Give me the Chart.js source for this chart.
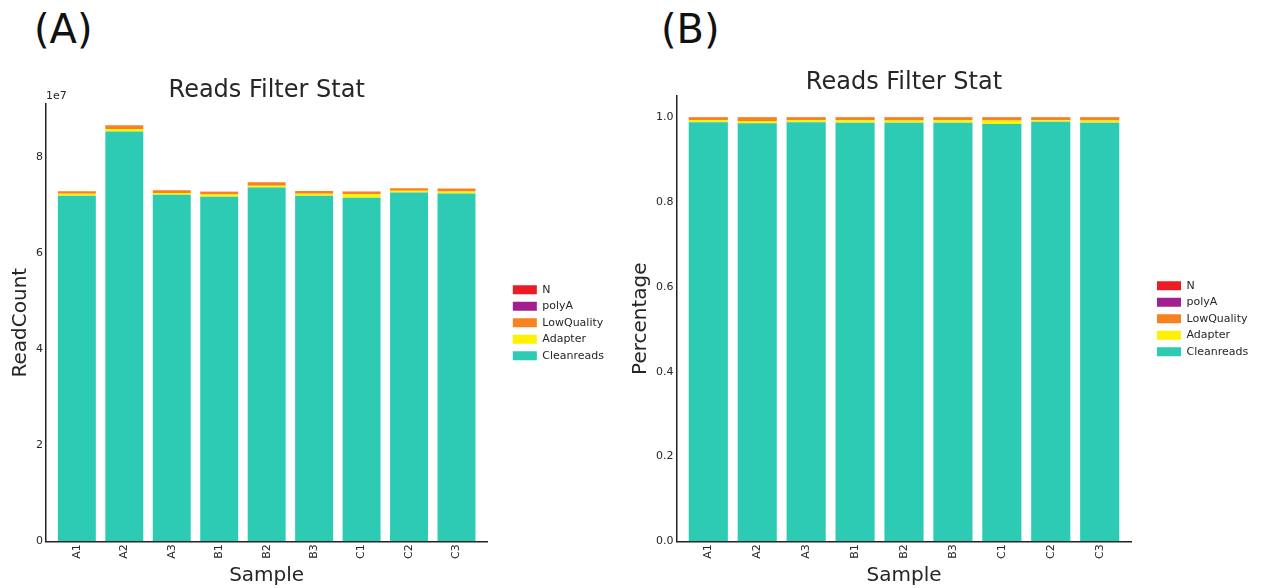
<!DOCTYPE html>
<html>
<head>
<meta charset="utf-8">
<script src="https://cdn.jsdelivr.net/npm/chart.js@4.4.1/dist/chart.umd.min.js"></script>
<style>
  body { margin: 0; background: #fff; width: 1263px; height: 588px; position: relative; overflow: hidden; font-family: 'DejaVu Sans', sans-serif; }
  canvas { position: absolute; top: 0; }
  .tag { position: absolute; top: 6px; font-size: 40px; color: #111; }
</style>
</head>
<body>
<div class="tag" style="left:34px">(A)</div>
<div class="tag" style="left:661px">(B)</div>
<canvas id="chart-count" width="615" height="588" style="left:0"></canvas>
<canvas id="chart-percent" width="639" height="588" style="left:620px"></canvas>
<script>
// samples and series
const samples = ['A1', 'A2', 'A3', 'B1', 'B2', 'B3', 'C1', 'C2', 'C3'];

// (A) read counts
const cleanCount   = [71900000, 85300000, 72100000, 71700000, 73600000, 71900000, 71500000, 72600000, 72400000];
const adapterCount = [400000, 500000, 400000, 450000, 400000, 450000, 700000, 350000, 400000];
const lowQualCount = [550000, 750000, 550000, 550000, 700000, 550000, 550000, 500000, 600000];
const polyACount   = [0, 0, 0, 0, 0, 0, 0, 0, 0];
const nCount       = [20000, 25000, 20000, 20000, 20000, 20000, 25000, 20000, 20000];
const countTicks   = [0, 20000000, 40000000, 60000000, 80000000];

// (B) fractions
const cleanPct   = [0.988, 0.986, 0.988, 0.987, 0.987, 0.987, 0.984, 0.989, 0.987];
const adapterPct = [0.005, 0.005, 0.005, 0.006, 0.005, 0.006, 0.008, 0.004, 0.005];
const lowQualPct = [0.007, 0.009, 0.007, 0.007, 0.008, 0.007, 0.008, 0.007, 0.008];
const polyAPct   = [0, 0, 0, 0, 0, 0, 0, 0, 0];
const nPct       = [0.0003, 0.0003, 0.0003, 0.0003, 0.0003, 0.0003, 0.0003, 0.0003, 0.0003];
const pctTicks   = [0, 0.2, 0.4, 0.6, 0.8, 1.0];

const colors = {
    Cleanreads: '#2ecbb4',
    Adapter: '#fff200',
    LowQuality: '#f7821f',
    polyA: '#a21f8e',
    N: '#ec1c24'
};

const font = "'DejaVu Sans', sans-serif";
const ink = '#262626';

// title over the plot area and the offset text (1e7)
const plotTitle = {
    id: 'plotTitle',
    afterDraw(chart, args, opts) {
        const ctx = chart.ctx;
        const area = chart.chartArea;
        ctx.save();
        ctx.fillStyle = ink;
        ctx.textAlign = 'center';
        ctx.textBaseline = 'middle';
        ctx.font = '24px ' + font;
        ctx.fillText(opts.text, (area.left + area.right) / 2, area.top - opts.gap);
        if (opts.exp) {
            ctx.font = '11px ' + font;
            ctx.textAlign = 'left';
            ctx.textBaseline = 'bottom';
            ctx.fillText(opts.exp, area.left, area.top - 2);
        }
        ctx.restore();
    }
};

function makeDatasets(clean, adapter, lowq, polya, n) {
    return [
        { label: 'Cleanreads', data: clean, backgroundColor: colors.Cleanreads },
        { label: 'Adapter', data: adapter, backgroundColor: colors.Adapter },
        { label: 'LowQuality', data: lowq, backgroundColor: colors.LowQuality },
        { label: 'polyA', data: polya, backgroundColor: colors.polyA },
        { label: 'N', data: n, backgroundColor: colors.N }
    ];
}

function makeOptions(cfg) {
    return {
        responsive: false,
        animation: false,
        devicePixelRatio: 1,
        layout: { padding: { top: cfg.top, right: cfg.right, left: 9, bottom: 0 } },
        datasets: { bar: { barPercentage: 0.8, categoryPercentage: 1.0, borderWidth: 0 } },
        plugins: {
            title: { display: false },
            tooltip: { enabled: false },
            plotTitle: { text: 'Reads Filter Stat', gap: cfg.gap, exp: cfg.exp },
            legend: {
                position: 'right',
                fullSize: false,
                reverse: true,
                labels: {
                    boxWidth: 24,
                    boxHeight: 9,
                    padding: 5.5,
                    color: ink,
                    font: { family: font, size: 11 }
                }
            }
        },
        scales: {
            x: {
                type: 'linear',
                stacked: true,
                min: -0.65,
                max: samples.length - 1 + 0.65,
                offset: false,
                afterBuildTicks: s => { s.ticks = samples.map((_, i) => ({ value: i })); },
                grid: { display: false, drawTicks: false },
                border: { display: true, color: '#222', width: 1.5 },
                ticks: {
                    maxRotation: 90, minRotation: 90, padding: 3, autoSkip: false,
                    color: ink, font: { family: font, size: 11 },
                    callback: v => samples[v]
                },
                title: { display: true, text: 'Sample', color: ink, padding: { top: 2, bottom: 0 }, font: { family: font, size: 20 } }
            },
            y: {
                stacked: true,
                min: 0,
                max: cfg.max,
                afterBuildTicks: s => { s.ticks = cfg.ticks.map(v => ({ value: v })); },
                grid: { display: false, drawTicks: false },
                border: { display: true, color: '#222', width: 1.5 },
                ticks: {
                    padding: 3,
                    color: ink,
                    font: { family: font, size: 11 },
                    callback: cfg.fmt
                },
                title: { display: true, text: cfg.yTitle, color: ink, padding: { top: 0, bottom: 0 }, font: { family: font, size: 20 } }
            },
            // empty axis that keeps the legend away from the plot
            gap: {
                type: 'linear',
                position: 'right',
                display: true,
                grid: { display: false, drawTicks: false },
                border: { display: false },
                ticks: { display: false },
                afterFit: s => { s.width = 20; }
            }
        }
    };
}

new Chart(document.getElementById('chart-count'), {
    type: 'bar',
    data: { labels: samples.map((_, i) => i), datasets: makeDatasets(cleanCount, adapterCount, lowQualCount, polyACount, nCount) },
    options: makeOptions({ top: 104, right: 8, gap: 13, exp: '1e7', max: 91000000, ticks: countTicks, yTitle: 'ReadCount', fmt: v => (v / 1e7).toString() }),
    plugins: [plotTitle]
});

new Chart(document.getElementById('chart-percent'), {
    type: 'bar',
    data: { labels: samples.map((_, i) => i), datasets: makeDatasets(cleanPct, adapterPct, lowQualPct, polyAPct, nPct) },
    options: makeOptions({ top: 96, right: 3, gap: 13, exp: null, max: 1.05, ticks: pctTicks, yTitle: 'Percentage', fmt: v => v.toFixed(1) }),
    plugins: [plotTitle]
});
</script>
</body>
</html>
